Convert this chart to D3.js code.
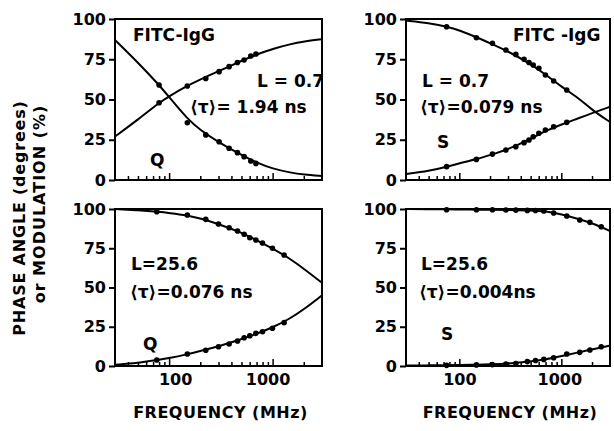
<!DOCTYPE html>
<html><head><meta charset="utf-8">
<script src="https://cdn.jsdelivr.net/npm/d3@7"></script>
<style>
html,body{margin:0;padding:0;background:#fff;}
svg text{font-family:"DejaVu Sans",sans-serif;font-weight:bold;fill:#000;}
</style></head>
<body>
<svg id="c" width="614" height="431"></svg>
<script>
// ---------- DATA ----------
const xDomain = [30, 3000];
const yTicks = [0, 25, 50, 75, 100];
const xMajorTicks = [100, 1000];
const xMinorTicks = [40, 50, 60, 70, 80, 90, 200, 300, 400, 500, 600, 700, 800, 900, 2000];
const xTickLabels = ["100", "1000"];

// fitted curves
const fitFreq    = [30, 50, 80, 100, 150, 200, 300, 500, 700, 1000, 1500, 2000, 3000];
const fitPhaseTL = [27, 37.5, 48, 52, 58.5, 62.5, 67.5, 74, 78, 81.5, 84.5, 86, 87.5];
const fitModTL   = [87, 73, 59, 51.5, 38, 31, 23.5, 15.5, 10.8, 7, 4.5, 3.4, 2.5];
const fitModTR   = [99, 97.5, 95, 93, 88.5, 85, 80, 72, 65.5, 58, 50.5, 43.5, 36];
const fitPhaseTR = [3.7, 5.5, 8.5, 10.5, 13, 15.5, 19, 25.5, 30.5, 34.5, 38.5, 41.5, 45.5];
const fitModBL   = [100, 99.2, 98.2, 97.5, 96, 94, 90.5, 85, 80, 75, 68, 62, 53];
const fitPhaseBL = [0.8, 2, 4, 5, 7.5, 9.5, 12.5, 17, 20.5, 24.5, 30.5, 36, 45];
const fitModBR   = [100, 99.9, 99.8, 99.7, 99.6, 99.5, 99.3, 99, 98.6, 96.7, 93.5, 91, 86];
const fitPhaseBR = [0.3, 0.4, 0.5, 0.6, 0.8, 1.0, 1.5, 2.8, 4.2, 6.3, 8.8, 10.5, 13];

// measured points
const freqTL  = [80, 150, 226, 304, 380, 457, 530, 615, 690];
const phaseTL = [48, 58.4, 63, 67.3, 70.4, 73, 74.5, 77, 78.3];
const modTL   = [59, 35.6, 28, 23.8, 19.7, 17, 14.5, 11.8, 10.3];

const freqTR  = [75, 147, 211, 286, 358, 431, 482, 530, 602, 698, 841, 1130];
const modTR   = [95.2, 88.4, 84.9, 80.7, 78, 75, 73, 71.4, 69.4, 65.2, 61.5, 55.9];
const phaseTR = [8.3, 12.8, 16.1, 18.6, 20.7, 23.2, 24.8, 26.9, 29, 31, 33.1, 35.8];

const freqBL  = [76, 150, 226, 300, 380, 458, 531, 602, 689, 798, 996, 1291];
const modBL   = [98.3, 96.2, 93.4, 90.4, 88.1, 86, 83.9, 81.7, 80.3, 78.3, 75, 70.7];
const phaseBL = [3.8, 7.6, 10, 12.3, 14, 15.9, 18, 19.3, 20.8, 21.8, 24, 27.6];

const freqBR  = [75, 147, 211, 286, 358, 464, 558, 673, 841, 1130, 1515, 1905, 2460];
const modBR   = [99.5, 99.5, 99.5, 99.4, 99.3, 99.1, 99, 98.7, 97.5, 95.5, 93, 91.5, 88.7];
const phaseBR = [0.4, 0.7, 0.9, 1.2, 1.6, 2.8, 3.5, 4.2, 5.3, 7.6, 8.7, 10.2, 12.3];

const yTitle1 = "PHASE ANGLE (degrees)";
const yTitle2 = "or MODULATION (%)";
const xTitle = "FREQUENCY (MHz)";

// ---------- LAYOUT ----------
const panels = [
  {left:115, top:19, w:207, h:161, xLabels:false, labelDx:[0,0],
   fits:[fitPhaseTL, fitModTL], freq:freqTL, series:[phaseTL, modTL],
   texts:[{t:"FITC-IgG", x:133, y:41}, {t:"L = 0.7", x:257, y:87}, {t:"⟨τ⟩= 1.94 ns", x:190, y:113}, {t:"Q", x:150, y:166}]},
  {left:406, top:19, w:204, h:161, xLabels:false, labelDx:[0,0],
   fits:[fitModTR, fitPhaseTR], freq:freqTR, series:[modTR, phaseTR],
   texts:[{t:"FITC -IgG", x:513, y:41}, {t:"L = 0.7", x:422, y:87}, {t:"⟨τ⟩=0.079 ns", x:420, y:113}, {t:"S", x:437, y:148}]},
  {left:115, top:209, w:207, h:157, xLabels:true, labelDx:[6,-5],
   fits:[fitModBL, fitPhaseBL], freq:freqBL, series:[modBL, phaseBL],
   texts:[{t:"L=25.6", x:131, y:270}, {t:"⟨τ⟩=0.076 ns", x:130, y:298}, {t:"Q", x:143, y:350}]},
  {left:406, top:209, w:204, h:157, xLabels:true, labelDx:[0,-2],
   fits:[fitModBR, fitPhaseBR], freq:freqBR, series:[modBR, phaseBR],
   texts:[{t:"L=25.6", x:421, y:270}, {t:"⟨τ⟩=0.004ns", x:419, y:298}, {t:"S", x:441, y:340}]}
];

const svg = d3.select("#c");

panels.forEach((p, i) => {
  const x = d3.scaleLog().domain(xDomain).range([0, p.w]);
  const y = d3.scaleLinear().domain([0, 100]).range([p.h, 0]);
  const g = svg.append("g").attr("transform", `translate(${p.left},${p.top})`);

  g.append("clipPath").attr("id", "clip" + i)
    .append("rect").attr("x", 0).attr("y", 0).attr("width", p.w).attr("height", p.h);

  // y axis
  const ya = g.append("g").call(d3.axisLeft(y).tickValues(yTicks).tickSize(6).tickPadding(3).tickFormat(d3.format("d")));
  ya.select(".domain").remove();
  ya.selectAll("line").attr("stroke", "#000").attr("stroke-width", 2);
  ya.selectAll("text").style("font-size", "16px").style("font-family", "DejaVu Sans").style("font-weight", "bold");

  // x axis minor
  const xm = g.append("g").attr("transform", `translate(0,${p.h})`)
    .call(d3.axisBottom(x).tickValues(xMinorTicks).tickSize(-4).tickFormat(""));
  xm.select(".domain").remove();
  xm.selectAll("line").attr("stroke", "#000").attr("stroke-width", 1.5);

  // x axis major
  const xM = g.append("g").attr("transform", `translate(0,${p.h})`)
    .call(d3.axisBottom(x).tickValues(xMajorTicks).tickSize(-7).tickPadding(8)
      .tickFormat((d, k) => p.xLabels ? xTickLabels[k] : ""));
  xM.select(".domain").remove();
  xM.selectAll("line").attr("stroke", "#000").attr("stroke-width", 1.5);
  xM.selectAll("text").style("font-size", "16px").style("font-family", "DejaVu Sans").style("font-weight", "bold")
    .attr("dx", (d, k) => p.labelDx[k]);

  // frame
  g.append("rect").attr("x", 0).attr("y", 0).attr("width", p.w).attr("height", p.h)
    .attr("fill", "none").attr("stroke", "#000").attr("stroke-width", 2);

  // curves
  const line = d3.line().x(d => x(d[0])).y(d => y(d[1])).curve(d3.curveBasis);
  p.fits.forEach(f => {
    g.append("path").attr("clip-path", `url(#clip${i})`)
      .attr("d", line(fitFreq.map((fr, k) => [fr, f[k]])))
      .attr("fill", "none").attr("stroke", "#000").attr("stroke-width", 2);
  });

  // points
  p.series.forEach(s => {
    g.selectAll(null).data(p.freq.map((fr, k) => [fr, s[k]])).enter()
      .append("circle").attr("cx", d => x(d[0])).attr("cy", d => y(d[1]))
      .attr("r", 2.8).attr("fill", "#000");
  });

  // annotations
  p.texts.forEach(t => {
    svg.append("text").attr("x", t.x).attr("y", t.y).text(t.t).style("font-size", "17px");
  });

  if (p.xLabels) {
    svg.append("text").attr("x", p.left + p.w / 2 + 2).attr("y", 418)
      .attr("text-anchor", "middle").style("font-size", "16px").style("letter-spacing", "0.5px").text(xTitle);
  }
});

svg.append("text").attr("transform", "translate(25,218) rotate(-90)")
  .attr("text-anchor", "middle").style("font-size", "16px").style("letter-spacing", "0.8px").text(yTitle1);
svg.append("text").attr("transform", "translate(45,204) rotate(-90)")
  .attr("text-anchor", "middle").style("font-size", "16px").style("letter-spacing", "1px").text(yTitle2);
</script>
</body></html>
